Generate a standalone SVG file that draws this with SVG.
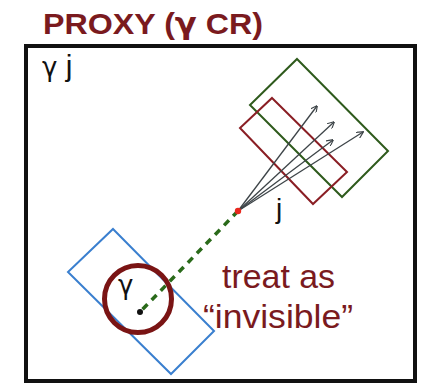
<svg xmlns="http://www.w3.org/2000/svg" width="424" height="384" viewBox="0 0 424 384">
<defs>
<style>
.t{font-family:"Liberation Sans",Arial,sans-serif}
.g{font-family:"DejaVu Sans","Noto Sans",sans-serif}
.dr{fill:#7a1a1e}
.box{fill:none;stroke-width:2}
.arr{stroke:#3d4448;stroke-width:1.3;fill:none;marker-end:url(#ah)}
</style>
<marker id="ah" viewBox="0 0 10 10" refX="9" refY="5" markerWidth="7" markerHeight="7" orient="auto" markerUnits="userSpaceOnUse">
<path d="M0,0 L10,5 L0,10" fill="none" stroke="#3d4448" stroke-width="1.6"/>
</marker>
</defs>
<rect width="424" height="384" fill="#fff"/>
<text class="t dr" x="43" y="34" font-size="30" font-weight="bold" textLength="220" lengthAdjust="spacingAndGlyphs">PROXY (<tspan class="g">γ</tspan> CR)</text>
<rect id="frame" x="26" y="46" width="389" height="335" fill="none" stroke="#111" stroke-width="4"/>
<text class="t" x="42" y="76" font-size="30" fill="#111"><tspan class="g" font-size="26">γ</tspan> j</text>
<g id="jet-green"><polygon class="box" stroke="#2e5a1c" points="297,59 388,151 342,197 250,105"/></g>
<g id="jet-red"><polygon class="box" stroke="#8a1e24" points="272,98 347,172 313,204 240,128"/></g>
<g id="photon-box"><polygon class="box" stroke="#3a7fcf" points="113,229 214,331 171,374 68,272"/></g>
<g id="photon-circle"><circle cx="138" cy="299" r="33.5" fill="none" stroke="#7a1414" stroke-width="5"/>
<text class="g" x="118" y="294" font-size="26" fill="#111">γ</text></g>
<g id="connectors">
<line x1="238" y1="211" x2="140" y2="312" stroke="#2a6a1a" stroke-width="3.5" stroke-dasharray="7 6"/>
<line class="arr" x1="238" y1="211" x2="317" y2="106"/>
<line class="arr" x1="238" y1="211" x2="334" y2="122"/>
<line class="arr" x1="238" y1="211" x2="333" y2="140"/>
<line class="arr" x1="238" y1="211" x2="363" y2="132"/>
</g>
<circle id="jet-point" cx="238" cy="211" r="3.2" fill="#e8281e"/>
<circle id="photon-point" cx="140" cy="312" r="3" fill="#111"/>
<text class="t" x="276" y="218" font-size="28" fill="#111">j</text>
<text class="t dr" x="222" y="288" font-size="33" textLength="113" lengthAdjust="spacingAndGlyphs">treat as</text>
<text class="t dr" x="203" y="328" font-size="34" textLength="150" lengthAdjust="spacingAndGlyphs">“invisible”</text>
</svg>
